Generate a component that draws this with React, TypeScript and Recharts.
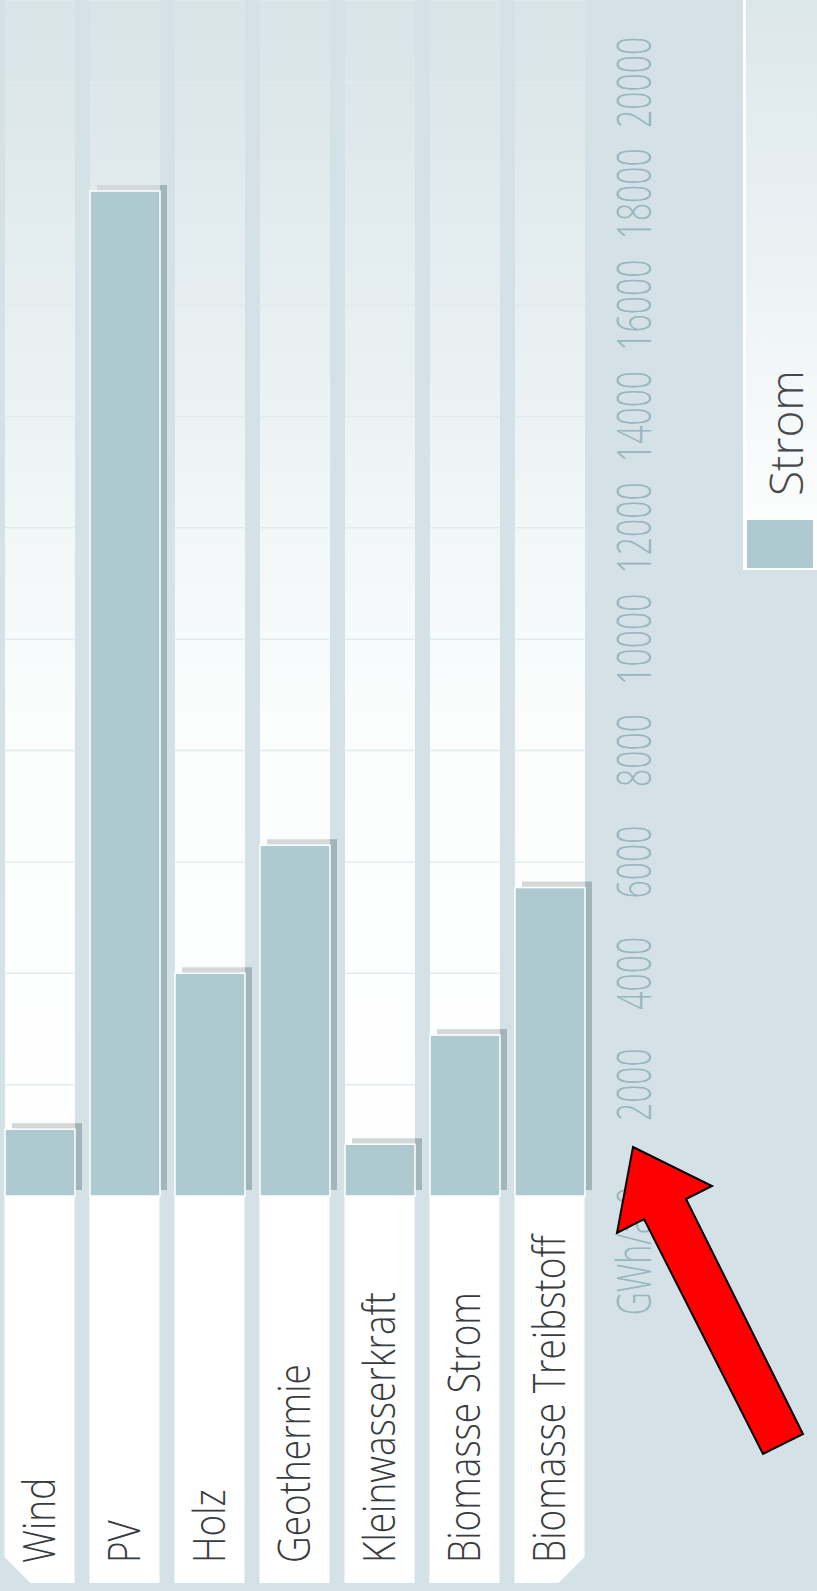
import { BarChart, Bar, XAxis, YAxis, CartesianGrid } from "recharts";

// data (GWh/a)
const categories = [
  "Wind",
  "PV",
  "Holz",
  "Geothermie",
  "Kleinwasserkraft",
  "Biomasse Strom",
  "Biomasse Treibstoff",
];
const strom = [1200, 18050, 4000, 6300, 930, 2890, 5540];
const valueTicks = [0, 2000, 4000, 6000, 8000, 10000, 12000, 14000, 16000, 18000, 20000];
const seriesName = "Strom";
const unitLabel = "GWh/a";

const data = categories.map((name, i) => ({ name, strom: strom[i] }));

const BG = "#d4e2e7";
const BAR = "#afc9d0";
const FONT = "'Open Sans', Lato, 'DejaVu Sans', sans-serif";

// chart is drawn as a horizontal bar chart, then the whole thing is turned 90deg
const W = 1591;
const H = 817;
const AXIS_W = 395;

function ShadowBar(props: any) {
  const { x, y, width, height } = props;
  if (!width || width <= 0) return null;
  return (
    <g>
      <rect x={x + width} y={y + 7} width={6} height={height} fill="#d5d8d9" />
      <rect x={x + 6} y={y + height} width={width} height={7} fill="#9bb0b6" opacity={0.9} />
      <rect x={x} y={y} width={width} height={height} fill={BAR} stroke="#ffffff" strokeWidth={1.5} />
    </g>
  );
}

function CategoryTick(props: any) {
  const { y, payload, index } = props;
  const half = 35;
  const left = 8;
  const cut = 26;
  const top = y - half;
  const bottom = y + half;
  let d = `M${left},${top} H${AXIS_W} V${bottom} H${left} Z`;
  if (index === 0) d = `M${left + cut},${top} H${AXIS_W} V${bottom} H${left} V${top + cut} Z`;
  if (index === categories.length - 1)
    d = `M${left},${top} H${AXIS_W} V${bottom} H${left + cut} L${left},${bottom - cut} Z`;
  return (
    <g>
      <path d={d} fill="#ffffff" />
      <text
        transform={`translate(28, ${y + 15}) scale(0.84, 1)`}
        fontFamily={FONT}
        fontWeight={300}
        fontSize={44}
        fill="#383c3e"
      >
        {payload.value}
      </text>
    </g>
  );
}

function ValueTick(props: any) {
  const { x, y, payload } = props;
  const base = y + 59;
  return (
    <g>
      <text
        transform={`translate(${x}, ${base}) scale(0.68, 1)`}
        textAnchor="middle"
        fontFamily={FONT}
        fontWeight={300}
        fontSize={47}
        fill="#98b6be"
      >
        {payload.value}
      </text>
      {payload.value === 0 && (
        <text
          transform={`translate(${x - 21}, ${base}) scale(0.68, 1)`}
          textAnchor="end"
          fontFamily={FONT}
          fontWeight={300}
          fontSize={47}
          fill="#98b6be"
        >
          {unitLabel}
        </text>
      )}
    </g>
  );
}

export default function App() {
  return (
    <div
      style={{
        position: "absolute",
        left: 0,
        top: 0,
        width: H,
        height: W,
        overflow: "hidden",
        background: BG,
      }}
    >
      <div
        style={{
          position: "absolute",
          left: 0,
          top: 0,
          width: W,
          height: H,
          transformOrigin: "0 0",
          transform: `translateY(${W}px) rotate(-90deg)`,
        }}
      >
        <BarChart
          width={W}
          height={H}
          data={data}
          layout="vertical"
          margin={{ top: -3, right: 0, bottom: 0, left: 0 }}
        >
          <defs>
            <linearGradient id="bandFill" x1="0" y1="0" x2="1" y2="0">
              <stop offset="0%" stopColor="#ffffff" />
              <stop offset="40%" stopColor="#fbfdfd" />
              <stop offset="100%" stopColor="#d8e4e8" />
            </linearGradient>
          </defs>
          <CartesianGrid
            horizontal={false}
            stroke="#e1ebee"
            strokeWidth={1.5}
            strokeDasharray="70 15"
            strokeDashoffset={77.5}
            zIndex={-10}
          />
          <XAxis
            type="number"
            domain={[0, 21480]}
            ticks={valueTicks}
            interval={0}
            height={225}
            tickLine={false}
            axisLine={false}
            tickSize={0}
            tickMargin={0}
            tick={(p: any) => <ValueTick {...p} />}
          />
          <YAxis
            type="category"
            dataKey="name"
            width={AXIS_W}
            interval={0}
            tickLine={false}
            axisLine={false}
            tick={(p: any) => <CategoryTick {...p} />}
          />
          <Bar
            dataKey="strom"
            name={seriesName}
            barSize={70}
            background={{ fill: "url(#bandFill)" }}
            shape={(p: any) => <ShadowBar {...p} />}
            isAnimationActive={false}
          />
        </BarChart>

        {/* legend */}
        <div
          style={{
            position: "absolute",
            left: 1021,
            top: 743,
            width: 570,
            height: 74,
            boxSizing: "border-box",
            borderTop: "3px solid #ffffff",
            background: "linear-gradient(to right, #ffffff 0%, #f6f9fa 25%, #dce7eb 100%)",
          }}
        >
          <div
            style={{
              position: "absolute",
              left: 1,
              top: 0,
              width: 50,
              height: 68,
              boxSizing: "border-box",
              background: BAR,
              border: "1px solid #ffffff",
            }}
          />
          <svg width={300} height={74} style={{ position: "absolute", left: 74, top: -3 }}>
            <text x={0} y={60} fontFamily={FONT} fontWeight={300} fontSize={46} fill="#45494b">
              {seriesName}
            </text>
          </svg>
        </div>
      </div>

      {/* red annotation arrow */}
      <svg width={H} height={W} style={{ position: "absolute", left: 0, top: 0, pointerEvents: "none" }}>
        <polygon
          points="633,1147 712,1186 686,1199 803,1434 763,1454 644,1219 617,1233"
          fill="#ff0000"
          stroke="#000000"
          strokeWidth={2}
          strokeLinejoin="miter"
        />
      </svg>
    </div>
  );
}
